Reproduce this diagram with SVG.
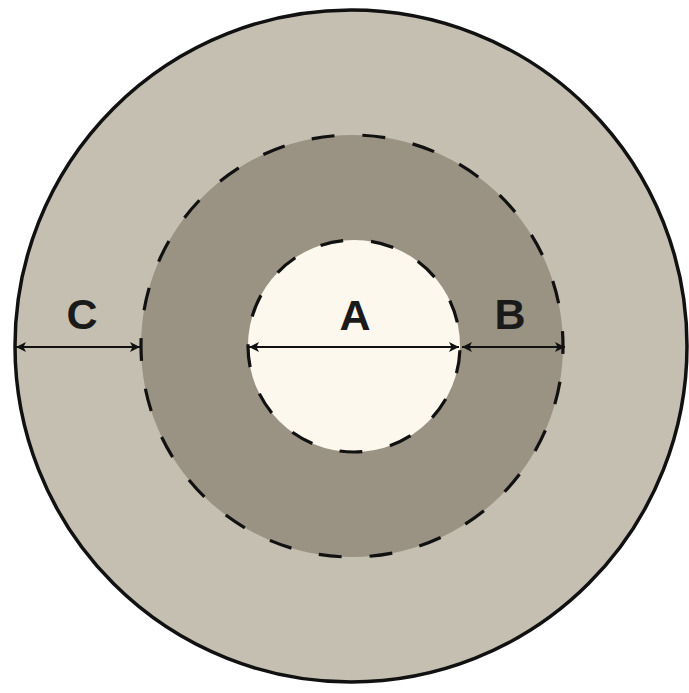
<svg xmlns="http://www.w3.org/2000/svg" width="689" height="693" viewBox="0 0 689 693">
  <style>
    .lbl { font-family: "Liberation Sans", Arial, sans-serif; font-weight: bold; font-size: 43px; fill: #1a1a1a; text-anchor: middle; }
    .dash { fill: none; stroke: #111; stroke-width: 3.2; stroke-dasharray: 0.45 0.55; }
    .dim { stroke: #111; stroke-width: 1.8; fill: none; marker-start: url(#ah); marker-end: url(#ah); }
  </style>
  <defs>
    <marker id="ah" viewBox="0 0 10 10" refX="10" refY="5" markerWidth="10" markerHeight="13" markerUnits="userSpaceOnUse" orient="auto-start-reverse">
      <path d="M0,0 L10,5 L0,10 L2.5,5 z" fill="#111"/>
    </marker>
  </defs>
  <rect width="689" height="693" fill="#ffffff"/>
  <g id="outer">
    <circle cx="351" cy="346" r="336" fill="#c5bfb1" stroke="#111" stroke-width="3.5"/>
  </g>
  <g id="middle">
    <circle cx="352" cy="346" r="211" fill="#9a9383"/>
    <circle class="dash" cx="352" cy="346" r="211" pathLength="26" stroke-dashoffset="0.295"/>
  </g>
  <g id="inner">
    <circle cx="354" cy="346" r="106" fill="#fdf8ee"/>
    <circle class="dash" cx="354" cy="346" r="106" pathLength="13" stroke-dashoffset="0.915"/>
  </g>
  <g id="connectors">
    <line class="dim" x1="16" y1="347" x2="140" y2="347"/>
    <line class="dim" x1="249" y1="347" x2="459" y2="347"/>
    <line class="dim" x1="462" y1="347" x2="565" y2="347"/>
  </g>
  <g id="labels">
    <text class="lbl" x="82" y="329">C</text>
    <text class="lbl" x="355" y="330">A</text>
    <text class="lbl" x="510" y="329">B</text>
  </g>
</svg>
